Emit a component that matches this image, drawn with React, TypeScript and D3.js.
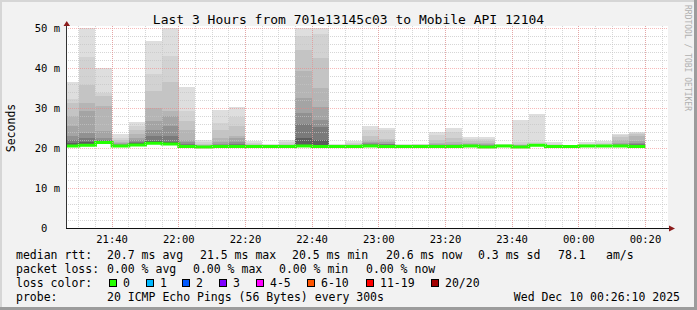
import React from "react";
import * as d3 from "d3";

// ---------- data ----------
const binStarts = [
  "21:25", "21:30", "21:35", "21:40", "21:45", "21:50", "21:55",
  "22:00", "22:05", "22:10", "22:15", "22:20", "22:25", "22:30", "22:35",
  "22:40", "22:45", "22:50", "22:55", "23:00", "23:05", "23:10", "23:15",
  "23:20", "23:25", "23:30", "23:35", "23:40", "23:45", "23:50", "23:55",
  "00:00", "00:05", "00:10", "00:15",
];

const medianMs = [
  20.6, 20.8, 21.5, 20.6, 20.9, 21.3, 21.1,
  20.5, 20.4, 20.5, 20.5, 20.5, 20.5, 20.5, 20.6,
  20.5, 20.5, 20.5, 20.6, 20.5, 20.5, 20.5, 20.5,
  20.5, 20.6, 20.4, 20.6, 20.4, 20.8, 20.5, 20.5,
  20.6, 20.6, 20.6, 20.5,
];

// upper edges of the smoke layers, outermost (lightest) to innermost (darkest)
const smokeTops = [
  [36.5, 32.3, 31.2, 28.0, 25.4, 23.0, 21.9, 21.2],
  [55.0, 42.7, 35.7, 31.2, 29.2, 23.8, 22.4, 21.5],
  [40.1, 33.8, 33.0, 30.6, 24.2, 22.6, 21.9, 21.8],
  [23.4, 22.6, 22.0, 21.5, 21.2, 21.0, 20.8, 20.7],
  [26.6, 25.6, 24.6, 23.4, 22.5, 22.0, 21.6, 21.3],
  [46.8, 38.4, 34.2, 30.1, 26.7, 24.6, 22.9, 21.7],
  [55.0, 43.1, 36.4, 29.2, 28.0, 25.4, 22.9, 21.6],
  [35.2, 29.2, 26.7, 24.5, 22.1, 21.5, 21.0, 20.8],
  [22.1, 21.5, 21.0, 20.8, 20.6, 20.5, 20.4, 20.4],
  [29.6, 26.3, 24.5, 22.5, 21.5, 21.0, 20.8, 20.7],
  [30.3, 27.7, 25.5, 23.1, 22.4, 21.5, 21.0, 20.8],
  [21.7, 21.2, 20.9, 20.8, 20.7, 20.6, 20.6, 20.5],
  [21.0, 20.8, 20.7, 20.6, 20.6, 20.5, 20.5, 20.5],
  [21.9, 21.4, 21.0, 20.8, 20.7, 20.6, 20.6, 20.5],
  [55.0, 48.1, 44.5, 39.3, 32.6, 28.8, 26.0, 22.5],
  [55.0, 48.5, 42.4, 34.9, 30.3, 27.0, 25.3, 22.0],
  [21.0, 20.8, 20.7, 20.6, 20.6, 20.5, 20.5, 20.5],
  [21.7, 21.3, 21.0, 20.8, 20.7, 20.6, 20.6, 20.5],
  [25.4, 24.5, 23.1, 21.9, 21.5, 21.2, 21.0, 20.8],
  [24.9, 24.6, 22.3, 21.9, 21.5, 21.1, 20.9, 20.8],
  [20.9, 20.8, 20.7, 20.6, 20.6, 20.5, 20.5, 20.5],
  [21.1, 20.9, 20.8, 20.7, 20.6, 20.6, 20.5, 20.5],
  [24.1, 23.3, 22.0, 21.3, 21.0, 20.8, 20.7, 20.6],
  [24.9, 24.0, 22.5, 21.5, 21.0, 20.8, 20.7, 20.6],
  [22.7, 22.2, 21.7, 21.2, 20.9, 20.8, 20.7, 20.6],
  [22.7, 22.2, 21.7, 21.2, 20.9, 20.7, 20.6, 20.5],
  [20.9, 20.8, 20.7, 20.7, 20.6, 20.6, 20.6, 20.6],
  [26.9, 21.5, 21.0, 20.8, 20.7, 20.6, 20.5, 20.5],
  [28.5, 21.5, 21.1, 20.9, 20.8, 20.8, 20.8, 20.8],
  [21.4, 21.0, 20.8, 20.7, 20.6, 20.5, 20.5, 20.5],
  [20.8, 20.7, 20.6, 20.6, 20.5, 20.5, 20.5, 20.5],
  [21.4, 21.0, 20.8, 20.7, 20.6, 20.6, 20.6, 20.6],
  [21.7, 21.2, 20.9, 20.8, 20.7, 20.6, 20.6, 20.6],
  [23.4, 23.2, 22.8, 22.0, 21.3, 21.0, 20.8, 20.7],
  [23.9, 23.8, 23.6, 23.0, 21.8, 21.2, 20.9, 20.7],
];

const smokeGreys = [
  "#dedede", "#d2d2d2", "#c4c4c4", "#b5b5b5",
  "#a4a4a4", "#919191", "#7a7a7a", "#5c5c5c",
];

const yTickValues = [0, 10, 20, 30, 40, 50];
const yTickLabels = [" 0  ", "10 m", "20 m", "30 m", "40 m", "50 m"];

const titleText = "Last 3 Hours from 701e13145c03 to Mobile API 12104";
const yAxisTitle = "Seconds";
const watermark = "RRDTOOL / TOBI OETIKER";

const rttLabel = "median rtt:";
const rttStats = ["20.7 ms avg", "21.5 ms max", "20.5 ms min", "20.6 ms now", "0.3 ms sd", "78.1", "am/s"];
const lossLabel = "packet loss:";
const lossStats = ["0.00 % avg", "0.00 % max", "0.00 % min", "0.00 % now"];
const lossColorLabel = "loss color:";
const lossBuckets = ["0", "1", "2", "3", "4-5", "6-10", "11-19", "20/20"];
const lossBucketColors = ["#26ff00", "#00b8ff", "#0059ff", "#7e00ff", "#ff00ff", "#ff5500", "#ff0000", "#a10000"];
const probeLabel = "probe:";
const probeText = "20 ICMP Echo Pings (56 Bytes) every 300s";
const stampText = "Wed Dec 10 00:26:10 2025";

// ---------- helpers ----------
function toDate(hm: string): Date {
  const [h, m] = hm.split(":").map(Number);
  return new Date(2025, 11, h >= 12 ? 9 : 10, h, m, 0);
}

const MONO = "'DejaVu Sans Mono', monospace";

export default function App() {
  const W = 697;
  const H = 310;
  const plotL = 66;
  const plotR = 666;
  const start = new Date(2025, 11, 9, 21, 26, 10);
  const end = new Date(2025, 11, 10, 0, 26, 10);

  const x = d3.scaleTime().domain([start, end]).range([plotL, plotR]);
  const y = d3.scaleLinear().domain([0, 50]).range([228.5, 28.5]);
  const crisp = (v: number) => Math.round(v - 0.5) + 0.5;

  const minorX = d3.timeMinute.every(5)!.range(start, end);
  const majorX = d3.timeMinute.every(20)!.range(start, end);
  const minorY = d3.range(0, 51, 2).filter((v) => v % 10 !== 0);
  const fmt = d3.timeFormat("%H:%M");

  const bins = binStarts.map((s, i) => {
    const t0 = toDate(s);
    const t1 = d3.timeMinute.offset(t0, 5);
    const xa = Math.round(Math.max(x(t0), plotL));
    const xb = Math.round(x(t1));
    return { xa, xb, t0, t1, med: medianMs[i], tops: smokeTops[i] };
  });

  const medianPts: [number, number][] = bins.map((b) => [Math.max(x(b.t0), plotL), y(b.med)]);
  medianPts.push([x(bins[bins.length - 1].t1), y(bins[bins.length - 1].med)]);
  const medianPath = d3.line().curve(d3.curveStepAfter)(medianPts) || "";

  const gridTop = 26;
  const gridRight = 668;

  const rttX = [107, 200, 292, 386, 478, 558, 606];
  const lossX = [107, 193, 279, 366];
  const boxX = [109, 146, 182, 219, 256, 307, 366, 431];

  const rowY = [258.5, 272.5, 286.5, 300.5];

  return (
    <div style={{ position: "absolute", left: 0, top: 0 }}>
      <svg width={W} height={H} style={{ display: "block" }} fontFamily={MONO}>
        {/* background + frame */}
        <rect x={0} y={0} width={W} height={H} fill="#f2f2f2" />
        <rect x={0} y={0} width={W} height={2} fill="#d6d6d6" />
        <rect x={0} y={0} width={2} height={H} fill="#d6d6d6" />
        <rect x={0} y={H - 3} width={W} height={3} fill="#9c9c9c" />
        <rect x={W - 3} y={0} width={3} height={H} fill="#9c9c9c" />

        {/* plot background */}
        <rect x={plotL} y={gridTop} width={gridRight - plotL} height={228 - gridTop} fill="#ffffff" />

        {/* smoke */}
        <g shapeRendering="crispEdges">
          {bins.map((b, i) =>
            b.tops.map((tp, k) => {
              const yt = Math.round(y(Math.min(tp, 50)) - 0.5);
              const yb = Math.round(y(b.med));
              if (yb - yt <= 0) return null;
              return (
                <rect key={`s${i}-${k}`} x={b.xa} y={yt} width={b.xb - b.xa} height={yb - yt} fill={smokeGreys[k]} />
              );
            })
          )}
        </g>

        {/* median */}
        <path d={medianPath} fill="none" stroke="#26ff00" strokeWidth={3} />

        {/* grid */}
        <g strokeDasharray="1,1" shapeRendering="crispEdges">
          {minorY.map((v) => (
            <line key={`hy${v}`} x1={plotL} x2={gridRight} y1={crisp(y(v))} y2={crisp(y(v))} stroke="#c4c4c4" strokeOpacity={0.7} />
          ))}
          {minorX.map((t) => (
            <line key={`vx${+t}`} x1={crisp(x(t))} x2={crisp(x(t))} y1={gridTop} y2={228} stroke="#c4c4c4" strokeOpacity={0.7} />
          ))}
          {yTickValues.map((v) => (
            <line key={`HY${v}`} x1={plotL} x2={gridRight} y1={crisp(y(v))} y2={crisp(y(v))} stroke="#f08080" strokeOpacity={0.55} />
          ))}
          {majorX.map((t) => (
            <line key={`VX${+t}`} x1={crisp(x(t))} x2={crisp(x(t))} y1={gridTop} y2={228} stroke="#f08080" strokeOpacity={0.55} />
          ))}
        </g>

        {/* axes */}
        <line x1={66.5} x2={66.5} y1={26} y2={229} stroke="#333" shapeRendering="crispEdges" />
        <line x1={66} x2={669} y1={228.5} y2={228.5} stroke="#111" shapeRendering="crispEdges" />
        <path d="M63.5,26 L70,26 L66.75,21 Z" fill="#8c1c1c" />
        <path d="M669,225.5 L669,231.5 L675,228.5 Z" fill="#8c1c1c" />

        {/* y tick labels */}
        {yTickValues.map((v, i) => (
          <text key={`yl${v}`} x={60} y={y(v) + 3.6} fontSize={10.5} textAnchor="end" fill="#000" style={{ whiteSpace: "pre" }}>
            {yTickLabels[i]}
          </text>
        ))}

        {/* x tick labels */}
        {majorX.map((t) => (
          <text key={`xl${+t}`} x={x(t)} y={242.5} fontSize={10.5} textAnchor="middle" fill="#000">
            {fmt(t)}
          </text>
        ))}

        {/* title */}
        <text x={348.5} y={24} fontSize={13} textAnchor="middle" fill="#000">
          {titleText}
        </text>

        {/* y axis title */}
        <text transform="translate(15,128) rotate(-90)" fontSize={11.5} textAnchor="middle" fill="#000">
          {yAxisTitle}
        </text>

        {/* watermark */}
        <text transform="translate(685,5) rotate(90)" fontSize={8} fill="#b0b0b0">
          {watermark}
        </text>

        {/* legend */}
        <g fontSize={11.5} fill="#000" style={{ whiteSpace: "pre" }}>
          <text x={16} y={rowY[0]}>{rttLabel}</text>
          {rttStats.map((s, i) => (
            <text key={`r${i}`} x={rttX[i]} y={rowY[0]}>{s}</text>
          ))}
          <text x={16} y={rowY[1]}>{lossLabel}</text>
          {lossStats.map((s, i) => (
            <text key={`l${i}`} x={lossX[i]} y={rowY[1]}>{s}</text>
          ))}
          <text x={16} y={rowY[2]}>{lossColorLabel}</text>
          {lossBuckets.map((s, i) => (
            <g key={`b${i}`}>
              <rect x={boxX[i] + 0.5} y={279.5} width={7} height={7} fill={lossBucketColors[i]} stroke="#000" />
              <text x={boxX[i] + 14} y={rowY[2]}>{s}</text>
            </g>
          ))}
          <text x={16} y={rowY[3]}>{probeLabel}</text>
          <text x={107} y={rowY[3]}>{probeText}</text>
          <text x={680} y={rowY[3]} textAnchor="end">{stampText}</text>
        </g>
      </svg>
    </div>
  );
}
